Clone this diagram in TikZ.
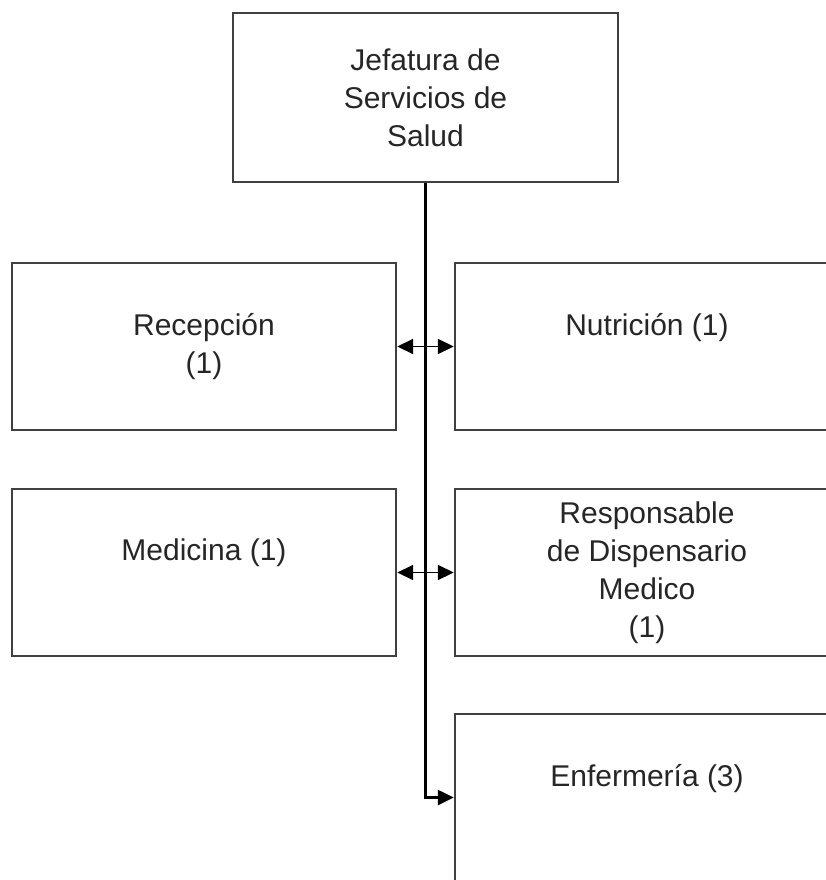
\documentclass[tikz,border=0pt]{standalone}
\usepackage{fontspec}
\setmainfont{Liberation Sans}
\usetikzlibrary{arrows.meta}

\tikzset{
  unit/.style={draw=black!75, line width=2.4pt, minimum width=384pt,
    minimum height=167pt, align=center, inner sep=0pt, text=black!85,
    font=\fontsize{30}{38}\selectfont},
  oneline/.style={text depth=45pt},
}

\begin{document}
\begin{tikzpicture}[x=1pt, y=-1pt, >={Triangle[length=16pt,width=15pt]}]
\clip (0,0) rectangle (826,880);
\fill[white] (0,0) rectangle (826,880);

% head
\node[unit, minimum width=385pt, minimum height=169pt] (jef) at (425.5,97.5) {Jefatura de\\Servicios de\\Salud};

% left column
\node[unit] (rec) at (204,346.5) {Recepción\\(1)};
\node[unit, oneline] (med) at (204,572.5) {Medicina (1)};

% right column
\node[unit, oneline] (nut) at (647,346.5) {Nutrición (1)};
\node[unit] (dis) at (647,572.5) {Responsable\\de Dispensario\\Medico\\(1)};
\node[unit, oneline] (enf) at (647,797.5) {Enfermería (3)};

% links
\draw[->, line width=2.4pt] (jef.south) |- (enf.west);
\draw[<->, line width=1.8pt] (rec) -- (nut);
\draw[<->, line width=1.8pt] (med) -- (dis);
\end{tikzpicture}
\end{document}
